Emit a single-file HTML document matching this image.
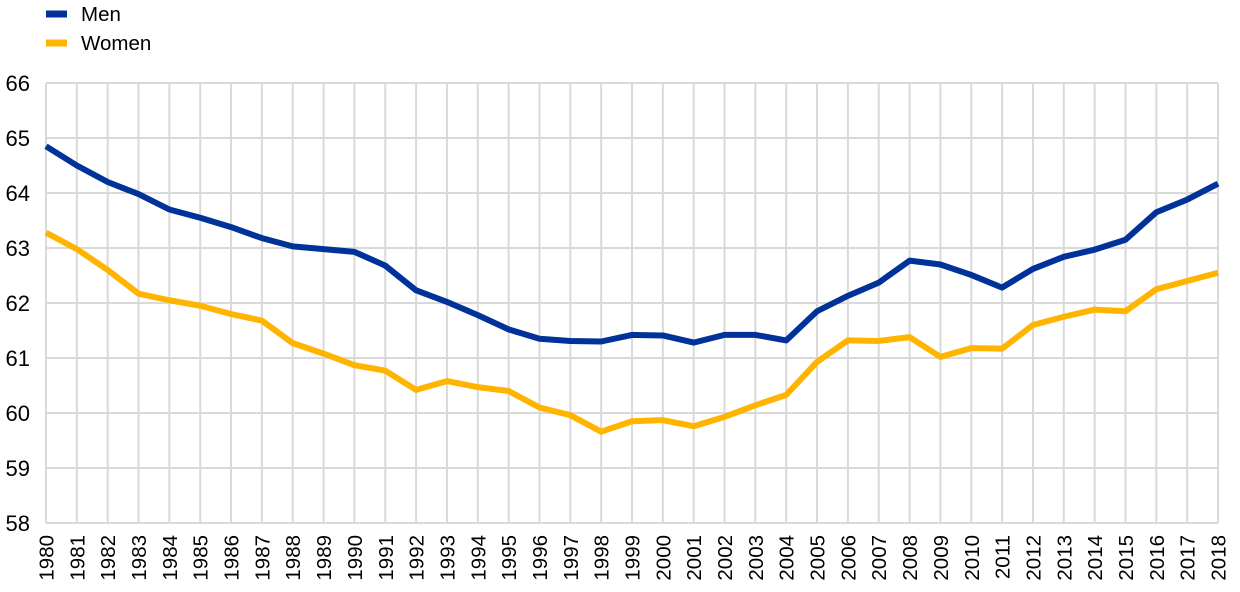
<!DOCTYPE html>
<html><head><meta charset="utf-8"><style>
html,body{margin:0;padding:0;background:#fff;}
svg{display:block;font-family:"Liberation Sans",Arial,sans-serif;}
</style></head><body>
<svg id="c" width="1240" height="592" xmlns="http://www.w3.org/2000/svg"></svg>
<script>
const men=[64.85,64.5,64.2,63.98,63.7,63.55,63.38,63.18,63.03,62.98,62.93,62.68,62.23,62.02,61.78,61.52,61.35,61.31,61.3,61.42,61.41,61.28,61.42,61.42,61.32,61.85,62.13,62.37,62.77,62.7,62.51,62.28,62.62,62.84,62.97,63.15,63.65,63.88,64.17];
const wom=[63.28,62.98,62.6,62.17,62.05,61.95,61.8,61.68,61.27,61.08,60.87,60.77,60.42,60.58,60.47,60.4,60.1,59.96,59.66,59.85,59.87,59.76,59.93,60.14,60.33,60.93,61.32,61.31,61.38,61.02,61.18,61.17,61.6,61.75,61.88,61.85,62.25,62.4,62.55];
const L=46,R=1218,T=83,B=523;
const X=i=>L+(R-L)*i/38, Y=v=>B-(v-58)*(B-T)/8;
let s='';
for(let i=0;i<=38;i++){s+=`<line x1="${X(i)}" y1="${T}" x2="${X(i)}" y2="${B}" stroke="#d9d9d9" stroke-width="2"/>`;}
for(let v=58;v<=66;v++){s+=`<line x1="${L}" y1="${Y(v)}" x2="${R}" y2="${Y(v)}" stroke="#d9d9d9" stroke-width="2"/>`;
 s+=`<text x="30" y="${Y(v)+8}" font-size="22" text-anchor="end">${v}</text>`;}
for(let i=0;i<=38;i++){s+=`<text transform="translate(${X(i)+7.5},535) rotate(-90)" font-size="20.5" text-anchor="end">${1980+i}</text>`;}
const pl=(d,c)=>`<polyline fill="none" stroke="${c}" stroke-width="6" stroke-linejoin="round" points="${d.map((v,i)=>X(i)+','+Y(v)).join(' ')}"/>`;
s+=pl(wom,'#ffb400')+pl(men,'#003299');
s+=`<line x1="46" y1="14" x2="67" y2="14" stroke="#003299" stroke-width="7"/><text x="81" y="21" font-size="20.5">Men</text>`;
s+=`<line x1="46" y1="43" x2="67" y2="43" stroke="#ffb400" stroke-width="7"/><text x="81" y="50" font-size="20.5">Women</text>`;
document.getElementById('c').innerHTML=s;
</script>
</body></html>
